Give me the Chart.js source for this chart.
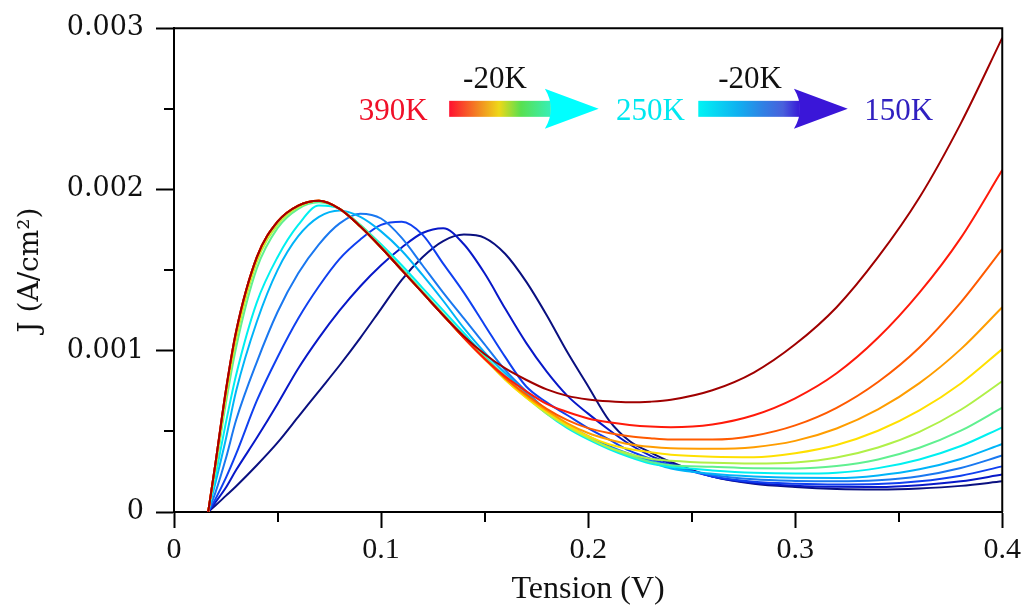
<!DOCTYPE html>
<html>
<head>
<meta charset="utf-8">
<script src="https://cdn.jsdelivr.net/npm/chart.js@4.4.1/dist/chart.umd.min.js"></script>
<style>
  html, body { margin: 0; padding: 0; background: #fff; }
  #wrap { width: 1025px; height: 606px; }
</style>
</head>
<body>
<div id="wrap"><canvas id="jv" width="1025" height="606"></canvas></div>
<script>
// Tension (V), commune a toutes les courbes
const tension = [0.0165, 0.02, 0.025, 0.03, 0.04, 0.05, 0.06, 0.07, 0.08, 0.09, 0.10, 0.11, 0.12, 0.13, 0.14,
    0.15, 0.16, 0.17, 0.18, 0.19, 0.20, 0.21, 0.22, 0.23, 0.24, 0.26, 0.28, 0.30, 0.32, 0.34, 0.36, 0.38, 0.40];

// J (A/cm2), une liste par temperature
const j390 = [0, 0.0003, 0.00075, 0.00112, 0.00158, 0.0018, 0.0019, 0.00193, 0.00188, 0.00177, 0.00164, 0.0015, 0.00136, 0.00122, 0.00109,
    0.00098, 0.00089, 0.00082, 0.00076, 0.00072, 0.000698, 0.000686, 0.00068, 0.000684, 0.000696, 0.000755, 0.000865, 0.00104, 0.00127, 0.00158, 0.00195, 0.00241, 0.00294];
const j370 = [0, 0.0003, 0.00075, 0.00112, 0.00158, 0.0018, 0.0019, 0.00193, 0.00188, 0.00177, 0.00164, 0.0015, 0.00136, 0.00122, 0.00108,
    0.00095, 0.00084, 0.00075, 0.00067, 0.00062, 0.00058, 0.000556, 0.00054, 0.00053, 0.000526, 0.000543, 0.0006, 0.000705, 0.00086, 0.00108, 0.00136, 0.0017, 0.00212];
const j350 = [0, 0.0003, 0.00075, 0.00112, 0.00158, 0.0018, 0.0019, 0.00193, 0.00188, 0.00177, 0.00164, 0.0015, 0.00136, 0.00122, 0.00108,
    0.00095, 0.00083, 0.00073, 0.00064, 0.00057, 0.00052, 0.00049, 0.00047, 0.000458, 0.00045, 0.000449, 0.000473, 0.000537, 0.000646, 0.000806, 0.00102, 0.0013, 0.00163];
const j330 = [0, 0.0003, 0.00074, 0.00111, 0.00158, 0.0018, 0.0019, 0.00193, 0.00188, 0.00177, 0.00164, 0.0015, 0.00136, 0.00122, 0.00108,
    0.00095, 0.00083, 0.00072, 0.00063, 0.00055, 0.00049, 0.00045, 0.00042, 0.000404, 0.000395, 0.000392, 0.000402, 0.000441, 0.000518, 0.000636, 0.000799, 0.00101, 0.00127];
const j310 = [0, 0.00029, 0.00073, 0.0011, 0.00157, 0.0018, 0.0019, 0.00193, 0.00188, 0.00177, 0.00164, 0.0015, 0.00136, 0.00122, 0.00108,
    0.00095, 0.00082, 0.00071, 0.00062, 0.00054, 0.00047, 0.00042, 0.00039, 0.00037, 0.000355, 0.000343, 0.00034, 0.000365, 0.000416, 0.000504, 0.00063, 0.000797, 0.00101];
const j290 = [0, 0.00028, 0.00071, 0.00107, 0.00155, 0.00178, 0.00189, 0.00193, 0.00188, 0.00177, 0.00164, 0.0015, 0.00136, 0.00122, 0.00108,
    0.00095, 0.00082, 0.00071, 0.00061, 0.00053, 0.00046, 0.0004, 0.00036, 0.00033, 0.000318, 0.000305, 0.0003, 0.000307, 0.000338, 0.0004, 0.000497, 0.000634, 0.000811];
const j270 = [0, 0.00026, 0.00067, 0.00102, 0.00151, 0.00176, 0.00188, 0.00192, 0.00188, 0.00178, 0.00165, 0.00151, 0.00137, 0.00123, 0.00109,
    0.00096, 0.00084, 0.00072, 0.00062, 0.00053, 0.00046, 0.0004, 0.00035, 0.00031, 0.00029, 0.00028, 0.000271, 0.00027, 0.000285, 0.000326, 0.000398, 0.000504, 0.000647];
const j250 = [0, 0.00022, 0.00055, 0.00085, 0.0013, 0.00158, 0.00178, 0.0019, 0.00188, 0.00178, 0.00166, 0.00153, 0.00139, 0.00125, 0.00111,
    0.00097, 0.00084, 0.00072, 0.00061, 0.00052, 0.00045, 0.00039, 0.00034, 0.0003, 0.00028, 0.000258, 0.000243, 0.000238, 0.000244, 0.000272, 0.000326, 0.000409, 0.000525];
const j230 = [0, 0.00018, 0.00045, 0.00075, 0.00118, 0.0015, 0.00171, 0.00183, 0.00187, 0.00183, 0.00174, 0.00162, 0.00147, 0.00131, 0.00114,
    0.00099, 0.00086, 0.00074, 0.00063, 0.00054, 0.00046, 0.0004, 0.00035, 0.00031, 0.00027, 0.000237, 0.00022, 0.000212, 0.000211, 0.000227, 0.000265, 0.000329, 0.000422];
const j210 = [0, 0.00012, 0.00033, 0.00057, 0.00093, 0.00124, 0.00148, 0.00166, 0.00179, 0.00185, 0.00182, 0.0017, 0.00153, 0.00136, 0.0012,
    0.00104, 0.00088, 0.00075, 0.00063, 0.00054, 0.00047, 0.00041, 0.00036, 0.00032, 0.00028, 0.00023, 0.000203, 0.000193, 0.00019, 0.000197, 0.000222, 0.000273, 0.00035];
const j190 = [0, 0.00008, 0.00021, 0.00036, 0.00069, 0.00096, 0.0012, 0.0014, 0.00157, 0.00169, 0.00178, 0.0018, 0.00172, 0.00154, 0.00136,
    0.00116, 0.00096, 0.00078, 0.00068, 0.0006, 0.00052, 0.00045, 0.00038, 0.00033, 0.00029, 0.00022, 0.000187, 0.000175, 0.00017, 0.000173, 0.00019, 0.000225, 0.000283];
const j170 = [0, 0.00006, 0.00015, 0.00026, 0.00046, 0.00067, 0.00089, 0.00108, 0.00125, 0.0014, 0.00153, 0.00164, 0.00173, 0.00176, 0.00166,
    0.00148, 0.00126, 0.00105, 0.00087, 0.00072, 0.00061, 0.00051, 0.00042, 0.00035, 0.0003, 0.00022, 0.00018, 0.000163, 0.000156, 0.000155, 0.000166, 0.00019, 0.000232];
const j150 = [0, 0.00004, 0.0001, 0.00016, 0.00029, 0.00043, 0.00059, 0.00075, 0.00091, 0.00108, 0.00126, 0.00144, 0.00158, 0.00168, 0.00172,
    0.0017, 0.0016, 0.00143, 0.00122, 0.00099, 0.00078, 0.00057, 0.00044, 0.00037, 0.00031, 0.00022, 0.000175, 0.000155, 0.000143, 0.00014, 0.000146, 0.000162, 0.00019];

const temperatures = ['390K', '370K', '350K', '330K', '310K', '290K', '270K', '250K', '230K', '210K', '190K', '170K', '150K'];
const courbes = [j390, j370, j350, j330, j310, j290, j270, j250, j230, j210, j190, j170, j150];
const couleurs = ['#a00000', '#ff1a0a', '#ff5a00', '#ff9d00', '#ffe000', '#b0f048', '#60f090', '#00f0f0',
    '#00b4f8', '#1a78f0', '#1040f0', '#0818c8', '#0a1080'];

const datasets = temperatures.map((t, i) => ({
    label: t,
    data: tension.map((v, k) => ({x: v, y: courbes[i][k]})),
    borderColor: couleurs[i],
    borderWidth: 2,
    pointRadius: 0,
    fill: false,
    cubicInterpolationMode: 'monotone',
}));

// petits traits (minor ticks) + cadre haut/droite
const cadre = {
    id: 'cadre',
    afterDraw(chart) {
        const {ctx, chartArea: a, scales: {x, y}} = chart;
        ctx.save();
        ctx.strokeStyle = '#000';
        ctx.lineWidth = 2;
        ctx.beginPath();
        ctx.moveTo(a.left, a.top);
        ctx.lineTo(a.right, a.top);
        ctx.lineTo(a.right, a.bottom);
        ctx.stroke();
        ctx.beginPath();
        x.ticks.forEach(t => {
            if (Math.round(t.value * 20) % 2 === 1) {
                const px = Math.round(x.getPixelForValue(t.value));
                ctx.moveTo(px, a.bottom);
                ctx.lineTo(px, a.bottom + 10);
            }
        });
        y.ticks.forEach(t => {
            if (Math.round(t.value / 0.0005) % 2 === 1) {
                const py = Math.round(y.getPixelForValue(t.value));
                ctx.moveTo(a.left, py);
                ctx.lineTo(a.left - 10, py);
            }
        });
        ctx.stroke();
        ctx.restore();
    }
};

// annotations : 390K -> 250K -> 150K
const annotations = {
    id: 'annotations',
    afterDraw(chart) {
        const {ctx, scales: {x, y}} = chart;
        const yc = y.getPixelForValue(0.0025);
        const fleches = [
            {from: 0.1329, head: 0.1791, to: 0.2051, head_color: '#00ffff',
             stops: [[0, '#ff1030'], [0.3, '#f28a22'], [0.5, '#eed818'], [0.72, '#58e050'], [1, '#38eeb0']]},
            {from: 0.2532, head: 0.2994, to: 0.3254, head_color: '#3a16d8',
             stops: [[0, '#00f4f4'], [0.4, '#10b0f0'], [0.65, '#3080e4'], [0.85, '#4860dc'], [1, '#3a20d8']]},
        ];
        ctx.save();
        fleches.forEach(f => {
            const x0 = x.getPixelForValue(f.from);
            const xh = x.getPixelForValue(f.head);
            const xt = x.getPixelForValue(f.to);
            const g = ctx.createLinearGradient(x0, 0, xh + 4, 0);
            f.stops.forEach(s => g.addColorStop(s[0], s[1]));
            ctx.fillStyle = g;
            ctx.fillRect(x0, yc - 8, xh + 6 - x0, 16);
            ctx.fillStyle = f.head_color;
            ctx.beginPath();
            ctx.moveTo(xh, yc - 20);
            ctx.lineTo(xt, yc);
            ctx.lineTo(xh, yc + 20);
            ctx.quadraticCurveTo(xh + 12, yc, xh, yc - 20);
            ctx.fill();
        });
        const textes = [
            {t: '390K', v: 0.1059, dy: 11, c: '#f01028'},
            {t: '250K', v: 0.2301, dy: 11, c: '#00e8f0'},
            {t: '150K', v: 0.3500, dy: 11, c: '#3020c0'},
            {t: '-20K', v: 0.1550, dy: -21, c: '#111'},
            {t: '-20K', v: 0.2782, dy: -21, c: '#111'},
        ];
        ctx.font = '31px "Liberation Serif"';
        ctx.textAlign = 'center';
        ctx.textBaseline = 'alphabetic';
        textes.forEach(e => {
            ctx.fillStyle = e.c;
            ctx.fillText(e.t, x.getPixelForValue(e.v), yc + e.dy);
        });
        ctx.restore();
    }
};

new Chart(document.getElementById('jv'), {
    type: 'line',
    data: {datasets},
    options: {
        responsive: false,
        animation: false,
        layout: {padding: {top: 24, right: 20, left: 0, bottom: 0}},
        plugins: {legend: {display: false}, tooltip: {enabled: false}},
        scales: {
            x: {
                type: 'linear',
                min: 0,
                max: 0.4,
                afterFit: s => { s.height = 94; },
                border: {display: true, color: '#000', width: 2},
                grid: {
                    drawOnChartArea: false,
                    drawTicks: true,
                    tickLength: 16,
                    tickWidth: 2,
                    tickColor: c => (Math.round(c.tick.value * 20) % 2 === 0 ? '#000' : 'rgba(0,0,0,0)'),
                },
                ticks: {
                    stepSize: 0.05,
                    autoSkip: false,
                    maxRotation: 0,
                    padding: 4,
                    color: '#111',
                    font: {family: 'Liberation Serif', size: 30},
                    callback: v => {
                        const k = Math.round(v * 20);
                        return k % 2 === 0 ? String(k / 20) : '';
                    },
                },
                title: {
                    display: true,
                    text: 'Tension (V)',
                    color: '#111',
                    font: {family: 'Liberation Serif', size: 32, lineHeight: 1},
                    padding: {top: 0, bottom: 0},
                },
            },
            y: {
                type: 'linear',
                min: 0,
                max: 0.003,
                afterFit: s => { s.width = 174; },
                border: {display: true, color: '#000', width: 2},
                grid: {
                    drawOnChartArea: false,
                    drawTicks: true,
                    tickLength: 18,
                    tickWidth: 2,
                    tickColor: c => (Math.round(c.tick.value / 0.0005) % 2 === 0 ? '#000' : 'rgba(0,0,0,0)'),
                },
                ticks: {
                    stepSize: 0.0005,
                    autoSkip: false,
                    padding: 12,
                    color: '#111',
                    font: {family: 'DejaVu Serif', size: 27},
                    callback: v => {
                        const k = Math.round(v / 0.0005);
                        return k % 2 === 0 ? String(k / 2000) : '';
                    },
                },
                title: {
                    display: true,
                    text: 'J (A/cm²)',
                    color: '#111',
                    font: {family: 'DejaVu Serif', size: 28, lineHeight: 1},
                    padding: {top: 17, bottom: 0},
                },
            },
        },
    },
    plugins: [cadre, annotations],
});
</script>
</body>
</html>
